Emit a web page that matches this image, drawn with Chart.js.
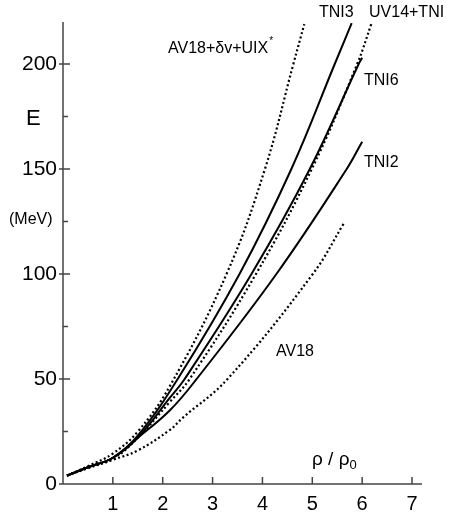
<!DOCTYPE html>
<html>
<head>
<meta charset="utf-8">
<script src="https://cdn.jsdelivr.net/npm/chart.js@4"></script>
<style>
html, body { margin: 0; padding: 0; background: #fff; }
</style>
</head>
<body>
<canvas id="eos" width="454" height="514"></canvas>
<script>
// density rho/rho0 and energy E (MeV)
const av18uixX = [0.08, 0.5, 1, 1.5, 2.14, 3.28, 4.05, 4.62, 4.84]
const av18uixE = [4, 8.5, 14.5, 25, 46.5, 100, 150, 200, 219]

const tni3X = [0.08, 0.5, 1, 1.5, 2.3, 3.54, 4.58, 5.45, 5.79]
const tni3E = [4, 8, 12.5, 23, 50, 100, 150, 200, 219.5]

const uv14X = [0.08, 0.5, 1, 1.5, 2.14, 2.54, 3.87, 4.99, 5.9, 6.19]
const uv14E = [4, 8, 12, 22, 39, 50, 100, 150, 200, 219.5]

const tni6X = [0.08, 0.5, 1, 1.5, 2.14, 2.44, 3.78, 4.95, 5.93, 6.0]
const tni6E = [4, 8, 12.5, 22, 41, 50, 100, 150, 200, 203]

const tni2X = [0.08, 0.5, 1, 1.5, 2.14, 2.68, 4.28, 5.69, 6.0]
const tni2E = [4, 8, 12.5, 22, 35, 50, 100, 150, 163]

const av18X = [0.08, 0.5, 1, 1.5, 2.14, 2.4, 3.3, 5.01, 5.63]
const av18E = [4, 7.5, 11.5, 16, 25.7, 31.5, 50, 100, 124]

const xTicks = [1, 2, 3, 4, 5, 6, 7]
const yTicks = [0, 25, 50, 75, 100, 125, 150, 175, 200]

const FONT = '"Liberation Sans", Arial, sans-serif'

const zip = (xs, ys) => xs.map((v, i) => ({ x: v, y: ys[i] }))

const curve = (xs, ys, dotted) => ({
	data: zip(xs, ys),
	showLine: true,
	borderColor: '#000',
	borderWidth: dotted ? 2.2 : 2,
	borderDash: dotted ? [2, 2.5] : [],
	pointRadius: 0,
	tension: 0.4,
	fill: false
})

const decor = {
	id: 'decor',
	afterDraw(chart) {
		const { ctx, scales: { x, y } } = chart
		const x0 = x.getPixelForValue(0)
		const y0 = y.getPixelForValue(0)
		ctx.save()
		ctx.strokeStyle = '#444'
		ctx.lineWidth = 1.5
		ctx.beginPath()
		ctx.moveTo(x0, y.getPixelForValue(220))
		ctx.lineTo(x0, y0)
		ctx.lineTo(x.getPixelForValue(7.2), y0)
		for (const v of xTicks) {
			const px = x.getPixelForValue(v)
			ctx.moveTo(px, y0)
			ctx.lineTo(px, y0 - 7)
		}
		for (const v of yTicks) {
			const py = y.getPixelForValue(v)
			if (v % 50 === 0) {
				ctx.moveTo(x0 - 4, py)
				ctx.lineTo(x0 + 7, py)
			} else {
				ctx.moveTo(x0, py)
				ctx.lineTo(x0 + 5, py)
			}
		}
		ctx.stroke()

		ctx.fillStyle = '#000'
		ctx.textBaseline = 'alphabetic'
		ctx.textAlign = 'left'
		ctx.font = '16px ' + FONT
		ctx.fillText('TNI3', 319, 17)
		ctx.fillText('UV14+TNI', 369, 17)
		ctx.fillText('TNI6', 364, 85)
		ctx.fillText('TNI2', 364, 167)
		ctx.fillText('AV18', 276, 356)
		ctx.fillText('AV18+δv+UIX', 168, 53)
		const w = ctx.measureText('AV18+δv+UIX').width
		ctx.font = '10px ' + FONT
		ctx.fillText('*', 168 + w + 1, 44)
		ctx.font = '16px ' + FONT
		ctx.fillText('(MeV)', 9, 224)
		ctx.font = '22px ' + FONT
		ctx.fillText('E', 26, 125)
		ctx.font = '19px ' + FONT
		ctx.fillText('ρ / ρ', 312, 465)
		const r = ctx.measureText('ρ / ρ').width
		ctx.font = '13px ' + FONT
		ctx.fillText('0', 312 + r, 469)
		ctx.restore()
	}
}

new Chart(document.getElementById('eos'), {
	type: 'scatter',
	data: {
		datasets: [
			curve(av18uixX, av18uixE, true),
			curve(tni3X, tni3E, false),
			curve(uv14X, uv14E, true),
			curve(tni6X, tni6E, false),
			curve(tni2X, tni2E, false),
			curve(av18X, av18E, true)
		]
	},
	options: {
		responsive: false,
		animation: false,
		devicePixelRatio: 1,
		layout: { padding: { top: 22, right: 32, left: 0, bottom: 0 } },
		plugins: { legend: { display: false }, tooltip: { enabled: false } },
		scales: {
			x: {
				type: 'linear',
				min: 0,
				max: 7.2,
				grid: { display: false, drawTicks: false },
				border: { display: false },
				afterBuildTicks: s => { s.ticks = xTicks.map(v => ({ value: v })) },
				afterFit: s => { s.height = 30 },
				ticks: {
					color: '#000',
					padding: 8,
					font: { family: FONT, size: 20 }
				}
			},
			y: {
				type: 'linear',
				min: 0,
				max: 220,
				grid: { display: false, drawTicks: false },
				border: { display: false },
				afterBuildTicks: s => { s.ticks = yTicks.map(v => ({ value: v })) },
				afterFit: s => { s.width = 63 },
				ticks: {
					color: '#000',
					padding: 6,
					font: { family: FONT, size: 21 },
					callback: v => (v % 50 === 0 ? String(v) : '')
				}
			}
		}
	},
	plugins: [decor]
})
</script>
</body>
</html>
